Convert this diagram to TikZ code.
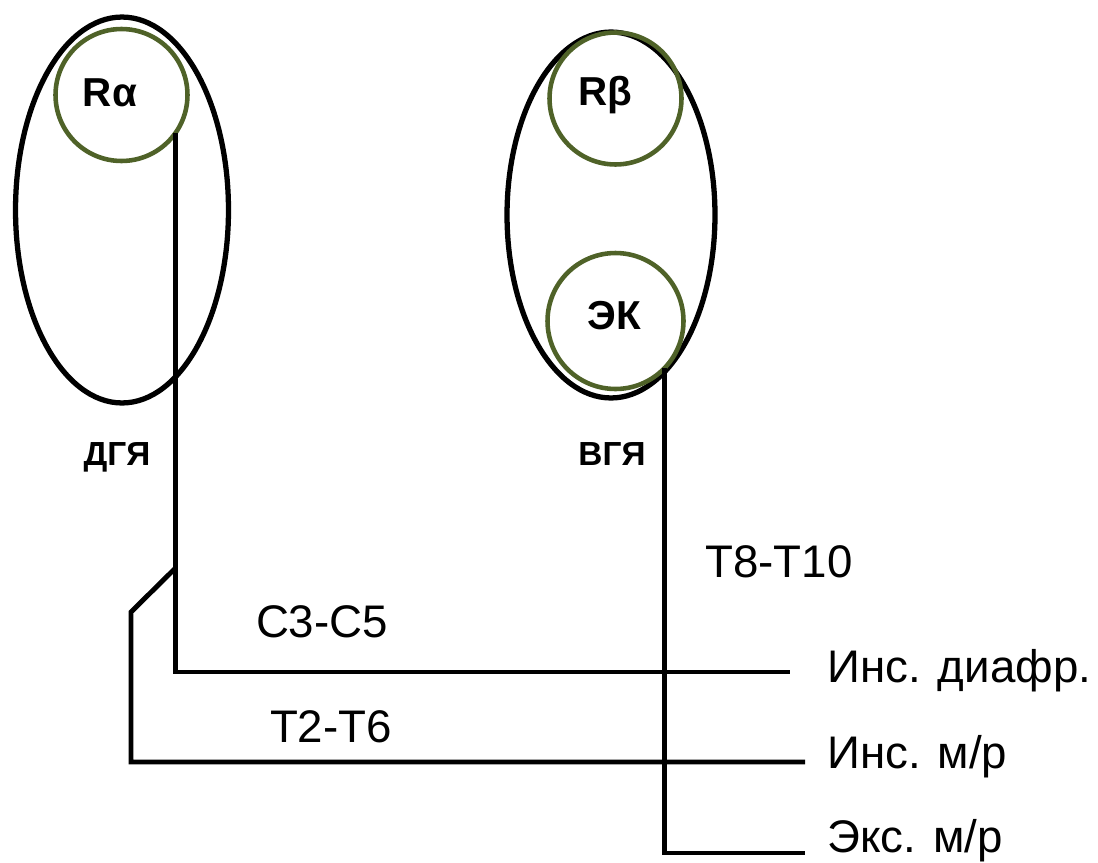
\documentclass[tikz,border=0pt]{standalone}
\usepackage{fontspec}
\setmainfont{Liberation Sans}
\usetikzlibrary{shapes.geometric}
\definecolor{olivering}{RGB}{79,98,40}

\begin{document}
\begin{tikzpicture}[
    x=0.02cm,
    y=-0.02cm,
    lobe/.style={
        ellipse,
        draw=black,
        line width=3pt,
        inner sep=0pt,
        outer sep=0pt
    },
    receptor/.style={
        circle,
        draw=olivering,
        line width=2.6pt,
        inner sep=0pt,
        outer sep=0pt,
        minimum size=2.64cm
    },
    tag/.style={
        font=\fontsize{23}{27}\selectfont\bfseries,
        inner sep=0pt
    },
    zone/.style={
        font=\fontsize{19}{23}\selectfont\bfseries,
        inner sep=0pt,
        anchor=base
    },
    segment/.style={
        font=\fontsize{26}{30}\selectfont,
        inner sep=0pt,
        anchor=base
    },
    target/.style={
        font=\fontsize{26}{30}\selectfont,
        inner sep=0pt,
        anchor=base west
    },
    nerve/.style={
        line width=2.8pt
    }
]

\useasboundingbox (0,0) rectangle (1098,862);

% ==================================================
% Dorsal group
% ==================================================

\node[lobe, minimum width=4.26cm, minimum height=7.72cm] (dgl) at (122,210) {};

\node[receptor] (ra) at (121.5,95) {};
\node[tag] at (110,93) {Rα};

\node[zone] at (117,465) {ДГЯ};

% ==================================================
% Ventral group
% ==================================================

\node[lobe, minimum width=4.16cm, minimum height=7.32cm] (vgl) at (611,215) {};

\node[receptor] (rb) at (615.5,98.5) {};
\node[tag] at (605,95) {Rβ};

\node[receptor, minimum size=2.72cm] (ek) at (615.5,321) {};
\node[tag] at (614,316) {ЭК};

\node[zone] at (612,465) {ВГЯ};

% ==================================================
% Targets
% ==================================================

\node[target] (diaph) at (827,682) {Инс. диафр.};
\node[target] (insmr) at (827,768) {Инс. м/р};
\node[target] (exmr)  at (827,852) {Экс. м/р};

\coordinate (diaphend) at (790,672);
\coordinate (insend)   at (805,762);
\coordinate (exend)    at (805,853);

% ==================================================
% Pathways
% ==================================================

% from R alpha to the diaphragm
\draw[nerve] (ra.-35) |- (diaphend);

% branch to the intercostal inspiratory muscles
\coordinate (split) at (ra.-35 |- 0,568);
\draw[nerve] (split) -- (131,612) |- (insend);

% from EK to the expiratory muscles
\draw[nerve] (ek.-44) |- (exend);

% segment labels
\node[segment] at (322,637) {C3-C5};
\node[segment] at (331,742) {T2-T6};
\node[segment] at (779,577) {T8-T10};

\end{tikzpicture}
\end{document}
